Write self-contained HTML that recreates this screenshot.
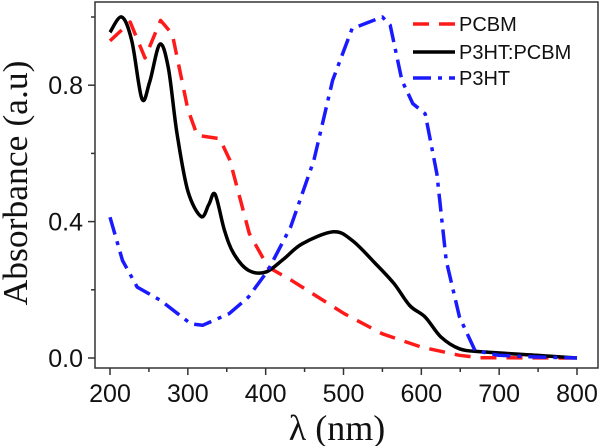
<!DOCTYPE html>
<html><head><meta charset="utf-8"><style>
html,body{margin:0;padding:0;background:#fff;width:600px;height:446px;overflow:hidden}
</style></head><body>
<svg id="chart" width="600" height="446" xmlns="http://www.w3.org/2000/svg">
<g id="axes"></g>
<g id="series"></g>
<g id="legend"></g>
</svg>
<script>
const xTicks=[200,300,400,500,600,700,800];
const yTicks=[0.0,0.4,0.8];
const yTickLabels=["0.0","0.4","0.8"];
const seriesNames=["PCBM","P3HT:PCBM","P3HT"];
const blendX=[200,215,228,241,251,264,275,286,300,317,327,335,347,359,378,400,423,447,487,511,541,565,585,605,625,649,679,748,800];
const blendY=[0.955,1.0,0.93,0.76,0.81,0.92,0.85,0.66,0.49,0.415,0.45,0.48,0.375,0.306,0.257,0.252,0.29,0.335,0.37,0.345,0.277,0.218,0.154,0.12,0.062,0.027,0.018,0.008,0];
const pcbmX=[200,226,245,265,280,300,312,341,354,379,403,433,501,550,600,649,674,800];
const pcbmY=[0.93,0.985,0.88,0.99,0.95,0.73,0.653,0.643,0.58,0.365,0.267,0.228,0.13,0.071,0.032,0.008,0.001,0];
const p3htX=[200,216,235,265,304,319,353,378,403,432,462,486,511,550,560,575,589,605,620,632,649,669,699,748,800];
const p3htY=[0.413,0.286,0.208,0.169,0.1,0.096,0.13,0.179,0.257,0.384,0.58,0.814,0.966,1.0,0.976,0.814,0.746,0.716,0.54,0.286,0.12,0.022,0.008,0.003,0];

const NS="http://www.w3.org/2000/svg";
const L=95,R=598,T=2,B=368;
const xs=v=>110+(v-200)*(577-110)/600;
const ys=v=>358-v*341;
function mk(tag,attrs,parent){const e=document.createElementNS(NS,tag);for(const k in attrs)e.setAttribute(k,attrs[k]);parent.appendChild(e);return e;}
const axes=document.getElementById('axes');
const frame=mk('rect',{x:L,y:T,width:R-L,height:B-T,fill:'none',stroke:'#333','stroke-width':1.5},axes);


for(let v=200;v<=800;v+=50){
  const t=mk('line',{x1:xs(v),x2:xs(v),y1:B,y2:B+(v%100===0?7:4),stroke:'#333','stroke-width':1.5},axes);
  
  
}
xTicks.forEach(v=>{
  const t=mk('text',{x:xs(v),y:402,'text-anchor':'middle','font-family':'Liberation Sans, sans-serif','font-size':25,fill:'#111'},axes);
  t.textContent=v;
  
  
});
for(let v=0;v<=1.001;v+=0.2){
  const big=Math.round(v*10)%4===0;
  const t=mk('line',{x1:L-(big?7:4),x2:L,y1:ys(v),y2:ys(v),stroke:'#333','stroke-width':1.5},axes);
  
  
}
yTicks.forEach((v,i)=>{
  const t=mk('text',{x:83,y:ys(v)+9,'text-anchor':'end','font-family':'Liberation Sans, sans-serif','font-size':25,fill:'#111'},axes);
  t.textContent=yTickLabels[i];
  
  
});
const xt=mk('text',{x:337,y:440,'text-anchor':'middle','font-family':'Liberation Serif, serif','font-size':36,fill:'#111'},axes);
xt.textContent='λ (nm)';


const yt=mk('text',{x:0,y:0,'text-anchor':'middle','font-family':'Liberation Serif, serif','font-size':35,fill:'#111',textLength:245,lengthAdjust:'spacingAndGlyphs',transform:'translate(27,183) rotate(-90)'},axes);
yt.textContent='Absorbance (a.u)';



function smooth(px,py){
  let d='M'+px[0].toFixed(1)+' '+py[0].toFixed(1);
  for(let i=0;i<px.length-1;i++){
    const i0=Math.max(0,i-1),i3=Math.min(px.length-1,i+2);
    const c1x=px[i]+(px[i+1]-px[i0])/6,c1y=py[i]+(py[i+1]-py[i0])/6;
    const c2x=px[i+1]-(px[i3]-px[i])/6,c2y=py[i+1]-(py[i3]-py[i])/6;
    d+=' C'+c1x.toFixed(1)+' '+c1y.toFixed(1)+' '+c2x.toFixed(1)+' '+c2y.toFixed(1)+' '+px[i+1].toFixed(1)+' '+py[i+1].toFixed(1);
  }
  return d;
}
const styles=[{c:'#ff1a1a',d:'16 10',s:false},{c:'#000',d:'',s:true},{c:'#1a1aff',d:'18 7 4 7',s:false}];
const data=[[pcbmX,pcbmY],[blendX,blendY],[p3htX,p3htY]];
const sg=document.getElementById('series');
data.forEach((s,i)=>{
  const px=s[0].map(xs),py=s[1].map(ys);
  const d=styles[i].s?smooth(px,py):px.map((x,j)=>(j?'L':'M')+x.toFixed(1)+' '+py[j].toFixed(1)).join(' ');
  const p=mk('path',{d:d,fill:'none',stroke:styles[i].c,'stroke-width':3.5,'stroke-linejoin':'round','stroke-dasharray':styles[i].d},sg);
  
  
});
const lg=document.getElementById('legend');
const ly=[24,52,78];
seriesNames.forEach((n,i)=>{
  const ln=mk('line',{x1:413,x2:455,y1:ly[i],y2:ly[i],stroke:styles[i].c,'stroke-width':3.5,'stroke-dasharray':styles[i].d},lg);
  
  
  const t=mk('text',{x:459,y:ly[i]+7,'font-family':'Liberation Sans, sans-serif','font-size':20,fill:'#111'},lg);
  t.textContent=n;
  
  
});
</script>
</body></html>
